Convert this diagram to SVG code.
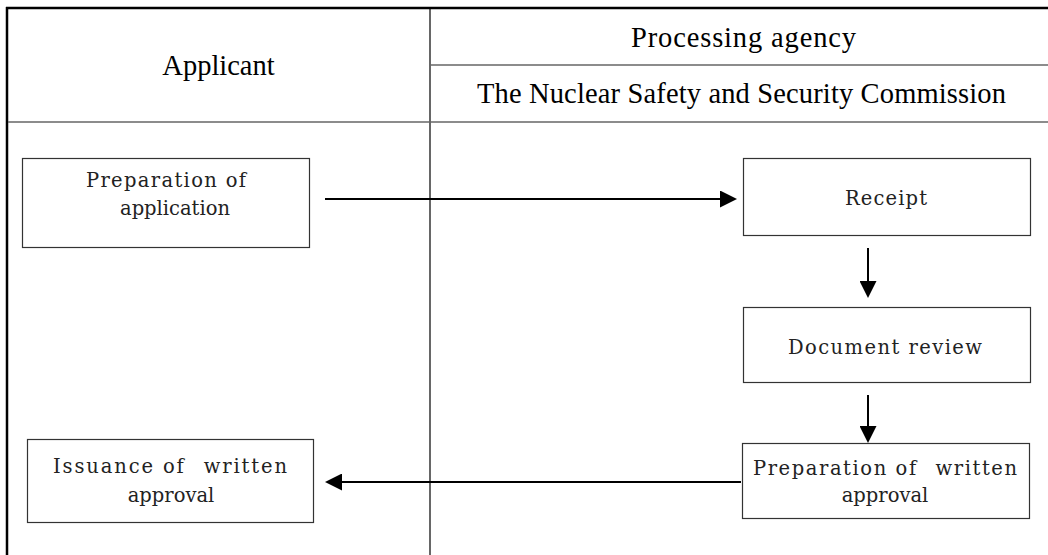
<svg xmlns="http://www.w3.org/2000/svg" width="1048" height="555" viewBox="0 0 1048 555">
<defs>
<style>
.hd{font-family:"Liberation Serif","Times New Roman",serif;font-size:28.5px;fill:#000}
.bx{font-family:"DejaVu Serif","Liberation Serif",serif;font-size:19.5px;fill:#222;text-anchor:middle}
.box{fill:#fff;stroke:#333;stroke-width:1.2}
.frame{stroke:#000;fill:none}
.grid{stroke:#666;stroke-width:1.5;fill:none}
.conn{stroke:#000;stroke-width:2;fill:none}
</style>
<marker id="ah" markerUnits="userSpaceOnUse" markerWidth="17" markerHeight="17" refX="9" refY="8.5" orient="auto">
<path d="M0,0 L17,8.5 L0,17 z" fill="#000"/>
</marker>
</defs>
<rect width="1048" height="555" fill="#fff"/>
<g id="table">
<line class="frame" x1="6" y1="8" x2="1048" y2="8" stroke-width="2.5"/>
<line class="frame" x1="7" y1="7" x2="7" y2="555" stroke-width="2.5"/>
<line class="frame" x1="430" y1="8" x2="430" y2="555" stroke-width="1.2"/>
<line class="grid" x1="430" y1="65" x2="1048" y2="65"/>
<line class="grid" x1="8" y1="122" x2="1048" y2="122"/>
<text class="hd" x="218.5" y="75" text-anchor="middle">Applicant</text>
<text class="hd" x="631" y="47" textLength="225" lengthAdjust="spacing">Processing agency</text>
<text class="hd" x="477" y="103" textLength="529" lengthAdjust="spacing">The Nuclear Safety and Security Commission</text>
</g>
<g id="n-prep-app">
<rect class="box" x="22.5" y="158.5" width="287" height="89"/>
<text class="bx" x="166" y="187" textLength="160" lengthAdjust="spacing">Preparation of</text>
<text class="bx" x="175" y="215">application</text>
</g>
<g id="n-receipt">
<rect class="box" x="743.5" y="158.5" width="287" height="77"/>
<text class="bx" x="886" y="205" textLength="82" lengthAdjust="spacing">Receipt</text>
</g>
<g id="n-review">
<rect class="box" x="743.5" y="307.5" width="287" height="75"/>
<text class="bx" x="885" y="354" textLength="194" lengthAdjust="spacing">Document review</text>
</g>
<g id="n-prep-written">
<rect class="box" x="742.5" y="443.5" width="287" height="75"/>
<text class="bx" x="885" y="475" textLength="264" lengthAdjust="spacing">Preparation of <tspan dx="10">written</tspan></text>
<text class="bx" x="885" y="502">approval</text>
</g>
<g id="n-issuance">
<rect class="box" x="27.5" y="439.5" width="286" height="83"/>
<text class="bx" x="170" y="473" textLength="234" lengthAdjust="spacing">Issuance of <tspan dx="10">written</tspan></text>
<text class="bx" x="171" y="502">approval</text>
</g>
<g id="connectors">
<line class="conn" x1="325" y1="199" x2="729" y2="199" marker-end="url(#ah)"/>
<line class="conn" x1="868" y1="248" x2="868" y2="290" marker-end="url(#ah)"/>
<line class="conn" x1="868" y1="395" x2="868" y2="435" marker-end="url(#ah)"/>
<line class="conn" x1="741" y1="482" x2="333" y2="482" marker-end="url(#ah)"/>
</g>
</svg>
